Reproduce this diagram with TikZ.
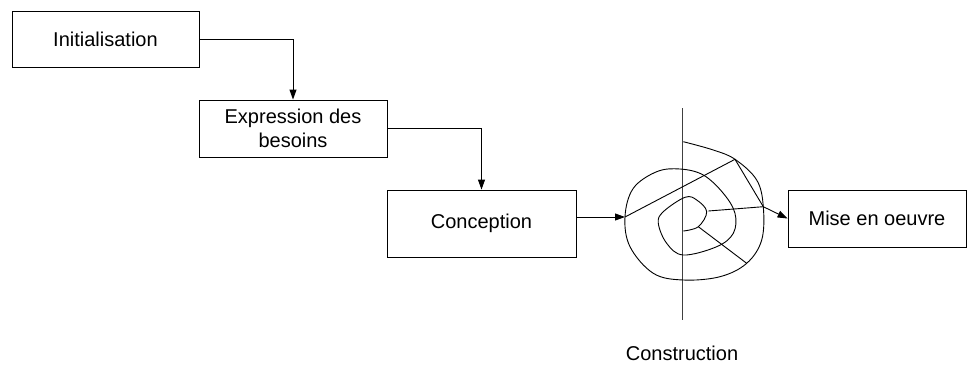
\documentclass[tikz,border=0pt]{standalone}
\usepackage{fontspec}
\setmainfont{Liberation Sans}
\usetikzlibrary{arrows.meta}
\begin{document}
\begin{tikzpicture}[x=1pt,y=-1pt,
  box/.style={draw,line width=0.9pt,inner sep=0pt,align=center,font=\fontsize{20}{24}\selectfont},
  conn/.style={line width=0.9pt,-{Triangle[length=10pt,width=7pt]}},
  curve/.style={line width=0.9pt}]
\useasboundingbox (0,0) rectangle (967,365);
\node[box,minimum width=187pt,minimum height=56pt] (init) at (105.5,39) {Initialisation};
\node[box,minimum width=188pt,minimum height=57pt] (expr) at (293,128.5) {Expression des\\besoins};
\node[box,minimum width=189pt,minimum height=67pt] (conc) at (481.5,223.5) {Conception};
\node[box,minimum width=178pt,minimum height=57pt] (mise) at (877,218.5) {Mise en oeuvre};
\node[font=\fontsize{20}{24}\selectfont] (cons) at (682,353) {Construction};
\coordinate (s1) at (625,217);
\coordinate (s2) at (735,159.3);
\coordinate (s3) at (763.3,206.7);
\coordinate (i1) at (708.3,211);
\coordinate (i2) at (698.3,226.7);
\coordinate (b1) at (746.7,263.3);
\coordinate (vt) at (682,108);
\coordinate (vb) at (682,320);
\draw[conn] (init.east) -| (expr.north);
\draw[conn] (expr.east) -| (conc.north);
\draw[conn] (conc.east |- s1) -- (s1);
\draw[conn] (s3) -- (mise.west);
\draw[line width=0.9pt,black!75] (vt) -- (vb);
\draw[curve] plot[smooth,tension=0.6] coordinates {
 (683.3,231) (698.3,226.7) (706.7,211.7) (696.7,200) (685,197.3) (663.3,211.7)
 (658.3,223.3) (666.7,243.3) (683.3,255) (716.7,246.7) (733.3,233.3) (735,213.3)
 (723.3,193.3) (703.3,175) (680,169) (656.7,171.7) (633.3,188.3) (625,216.7)
 (630,246.7) (653.3,273.3) (683.3,280) (720,276.7) (746.7,263.3) (761.7,240)
 (763.3,206.7) (756.7,180) (735,159.3) (713.3,150) (683.3,141.7)};
\draw[curve] (s1) -- (s2) -- (s3);
\draw[curve] (i1) -- (s3);
\draw[curve] (i2) -- (b1);
\end{tikzpicture}
\end{document}
